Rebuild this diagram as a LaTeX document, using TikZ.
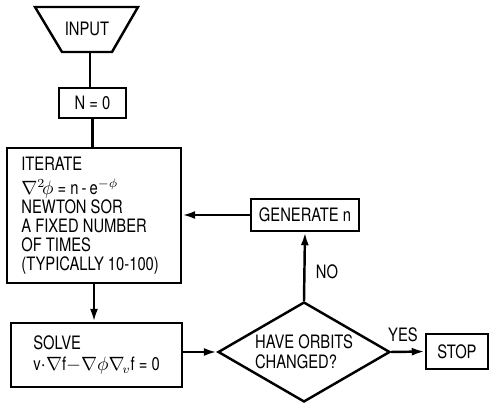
\documentclass[tikz,border=0pt]{standalone}
\usepackage{fontspec}
\setmainfont[FakeStretch=0.8]{TeX Gyre Heros}
\usetikzlibrary{shapes.geometric,arrows.meta}
\begin{document}
\begin{tikzpicture}[x=0.02cm,y=-0.02cm,
  every node/.style={font=\fontsize{10.5}{12.8}\selectfont},
  box/.style={draw,line width=1.4pt,inner sep=0pt},
  flow/.style={line width=1.4pt},
  arr/.style={flow,-{Latex[length=2.6mm,width=1.6mm]}}]
\useasboundingbox (0,0) rectangle (494,404);

% input trapezium, wide side on top
\draw[line width=1.4pt,line join=miter] (35,7) -- (138,7) -- (112,52) -- (62,52) -- cycle;
\node (input) at (87,29) {INPUT};
\coordinate (inbot) at (90,52);

\node[box,minimum width=1.34cm,minimum height=0.6cm] (n0) at (92.5,103) {N = 0};

\node[box,minimum width=3.48cm,minimum height=2.7cm] (iter) at (94,215.5) {};
\node[anchor=north west,align=left,inner sep=0pt,font=\fontsize{10.5}{10.9}\selectfont]
  (itertext) at (21,157) {ITERATE\\[2.5pt]
  $\nabla^{2}\!\phi$ = n\,-\,e$^{-\phi}$\\
  NEWTON SOR\\
  A FIXED NUMBER\\
  OF TIMES\\
  (TYPICALLY 10-100)};

\node[box,minimum width=3.42cm,minimum height=1.28cm] (solve) at (96.5,355) {};
\node[anchor=west,align=left,inner sep=0pt,font=\fontsize{10.5}{12.5}\selectfont]
  (solvetext) at (33,355) {SOLVE\\
  v$\cdot\nabla$f$-\nabla\phi\nabla_{\!v}$f = 0};

\node[draw,diamond,line width=1.4pt,aspect=1.72,inner sep=0pt,
  minimum width=3.44cm,minimum height=2cm,align=left,
  font=\fontsize{10.5}{11.5}\selectfont] (dec) at (304,352)
  {HAVE ORBITS\\CHANGED?};

\node[box,minimum width=2.16cm,minimum height=0.64cm] (gen) at (305,215) {GENERATE n};
\node[box,minimum width=1.24cm,minimum height=0.7cm] (stop) at (457,351.5) {STOP};

% connectors
\draw[flow] (inbot) -- (inbot |- n0.north);
\draw[flow] (n0.south) -- (n0.south |- iter.north);
\draw[arr] (iter.south) -- (iter.south |- solve.north);
\draw[arr] (solve.east |- dec.west) -- (dec.west);
\draw[arr] (dec.north) -- (gen.south);
\draw[arr] (gen.west) -- (gen.west -| iter.east);
\draw[arr] (dec.east) -- (stop.west);

\node (no) at (327,272) {NO};
\node (yes) at (403,335) {YES};
\end{tikzpicture}
\end{document}
